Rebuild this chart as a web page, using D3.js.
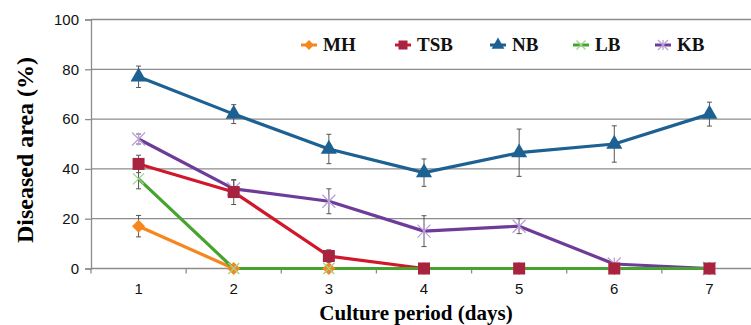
<!DOCTYPE html>
<html>
<head>
<meta charset="utf-8">
<script src="https://cdn.jsdelivr.net/npm/d3@7/dist/d3.min.js"></script>
<style>
  html, body { margin: 0; padding: 0; background: #fff; }
  svg { display: block; }
</style>
</head>
<body>
<svg id="chart" width="751" height="325"></svg>
<script>
// Culture period (days)
const days = [1, 2, 3, 4, 5, 6, 7];
const yTicks = [0, 20, 40, 60, 80, 100];

// Diseased area (%) per medium, with standard error
const mhValues  = [17, 0, 0, 0, 0, 0, 0];
const mhErr     = [4.3, 0, 0, 0, 0, 0, 0];
const tsbValues = [42, 30.7, 5, 0, 0, 0, 0];
const tsbErr    = [3.5, 5, 2.5, 0, 0, 0, 0];
const nbValues  = [77, 62, 48, 38.5, 46.5, 50, 62];
const nbErr     = [4.3, 3.8, 5.9, 5.5, 9.5, 7.3, 4.8];
const lbValues  = [36, 0, 0, 0, 0, 0, 0];
const lbErr     = [4, 0, 0, 0, 0, 0, 0];
const kbValues  = [52, 32, 27, 15, 17, 1.8, 0];
const kbErr     = [2, 3.5, 5, 6.2, 3, 0, 0];

const seriesNames = ["MH", "TSB", "NB", "LB", "KB"];

const series = [
  { name: "MH",  values: mhValues,  err: mhErr,  line: "#f7861c", marker: "#f7861c", shape: "diamond" },
  { name: "TSB", values: tsbValues, err: tsbErr, line: "#d0182a", marker: "#a8233f", shape: "square" },
  { name: "NB",  values: nbValues,  err: nbErr,  line: "#1d6192", marker: "#1d6192", shape: "triangle" },
  { name: "LB",  values: lbValues,  err: lbErr,  line: "#45a32e", marker: "#9fd48c", shape: "x" },
  { name: "KB",  values: kbValues,  err: kbErr,  line: "#6e3c98", marker: "#b9a2d6", shape: "star" }
];

const svg = d3.select("#chart");
const plotLeft = 91, plotRight = 757, plotTop = 19.5, plotBottom = 268.5;

const x = d3.scaleBand().domain(days).range([plotLeft, plotRight]);
const y = d3.scaleLinear().domain([0, 100]).range([plotBottom, plotTop]);
const cx = d => x(d) + x.bandwidth() / 2;

// Horizontal gridlines
svg.append("g")
  .selectAll("line")
  .data(yTicks.filter(t => t > 0))
  .join("line")
  .attr("x1", plotLeft).attr("x2", 751)
  .attr("y1", d => y(d)).attr("y2", d => y(d))
  .attr("stroke", "#8c8c8c").attr("stroke-width", 1.3);

// Y axis
const yAxis = svg.append("g")
  .attr("transform", `translate(${plotLeft},0)`)
  .call(d3.axisLeft(y).tickValues(yTicks).tickSize(6).tickPadding(6));
yAxis.select(".domain").attr("stroke", "#8c8c8c").attr("stroke-width", 1.3);
yAxis.selectAll(".tick line").attr("stroke", "#8c8c8c").attr("stroke-width", 1.3);
yAxis.selectAll("text")
  .attr("font-family", "Liberation Sans, Arial, sans-serif")
  .attr("font-size", 15).attr("fill", "#111");

// X axis with ticks between categories
const xAxisG = svg.append("g").attr("transform", `translate(0,${plotBottom})`);
xAxisG.append("line")
  .attr("x1", plotLeft).attr("x2", 751)
  .attr("y1", 0).attr("y2", 0)
  .attr("stroke", "#8c8c8c").attr("stroke-width", 1.3);
xAxisG.selectAll(".bt")
  .data(days.map(d => x(d)).concat([plotRight]))
  .join("line")
  .attr("class", "bt")
  .attr("x1", d => d).attr("x2", d => d)
  .attr("y1", 0).attr("y2", 5)
  .attr("stroke", "#8c8c8c").attr("stroke-width", 1.3);
xAxisG.selectAll("text")
  .data(days)
  .join("text")
  .attr("x", d => cx(d)).attr("y", 25)
  .attr("text-anchor", "middle")
  .attr("font-family", "Liberation Sans, Arial, sans-serif")
  .attr("font-size", 15).attr("fill", "#111")
  .text(d => d);

// Axis titles
svg.append("text")
  .attr("transform", `translate(33,150) rotate(-90)`)
  .attr("text-anchor", "middle")
  .attr("font-family", "Liberation Serif, Times New Roman, serif")
  .attr("font-weight", "bold").attr("font-size", 24)
  .text("Diseased area (%)");
svg.append("text")
  .attr("x", 416).attr("y", 320)
  .attr("text-anchor", "middle")
  .attr("font-family", "Liberation Serif, Times New Roman, serif")
  .attr("font-weight", "bold").attr("font-size", 21)
  .text("Culture period (days)");

function drawMarker(g, shape, color, px, py, s) {
  if (shape === "diamond") {
    g.append("path").attr("d", d3.symbol(d3.symbolDiamond2, s * s * 0.75)())
      .attr("transform", `translate(${px},${py})`)
      .attr("fill", color);
  } else if (shape === "square") {
    g.append("rect").attr("x", px - s / 2).attr("y", py - s / 2)
      .attr("width", s).attr("height", s).attr("fill", color);
  } else if (shape === "triangle") {
    g.append("path").attr("d", d3.symbol(d3.symbolTriangle, s * s * 0.5)())
      .attr("transform", `translate(${px},${py})`).attr("fill", color);
  } else if (shape === "x") {
    const h = s / 2;
    g.append("path")
      .attr("d", `M${px - h},${py - h}L${px + h},${py + h}M${px - h},${py + h}L${px + h},${py - h}`)
      .attr("stroke", color).attr("stroke-width", 1.3).attr("fill", "none");
  } else if (shape === "star") {
    const h = s / 2;
    g.append("path")
      .attr("d", `M${px - h},${py - h}L${px + h},${py + h}M${px - h},${py + h}L${px + h},${py - h}M${px},${py - h}L${px},${py + h}`)
      .attr("stroke", color).attr("stroke-width", 1.3).attr("fill", "none");
  }
}

const line = d3.line().x(d => cx(d.day)).y(d => y(d.v));

// Lines first, in stacking order (LB ends up on top along zero)
const drawOrder = ["NB", "KB", "TSB", "MH", "LB"];
const markerOrder = ["NB", "KB", "MH", "LB", "TSB"];
const byName = Object.fromEntries(series.map(s => [s.name, s]));

drawOrder.forEach(name => {
  const s = byName[name];
  const pts = days.map((d, i) => ({ day: d, v: s.values[i], e: s.err[i] }));
  svg.append("path").datum(pts)
    .attr("d", line)
    .attr("fill", "none").attr("stroke", s.line).attr("stroke-width", 3.2)
    .attr("stroke-linejoin", "round");
});

markerOrder.forEach(name => {
  const s = byName[name];
  const pts = days.map((d, i) => ({ day: d, v: s.values[i], e: s.err[i] }));
  const g = svg.append("g");
  // Error bars
  pts.filter(p => p.e > 0).forEach(p => {
    const px = cx(p.day);
    g.append("line").attr("x1", px).attr("x2", px)
      .attr("y1", y(p.v + p.e)).attr("y2", y(p.v - p.e))
      .attr("stroke", "#555").attr("stroke-width", 1);
    [p.v + p.e, p.v - p.e].forEach(t => {
      g.append("line").attr("x1", px - 2.5).attr("x2", px + 2.5)
        .attr("y1", y(t)).attr("y2", y(t))
        .attr("stroke", "#555").attr("stroke-width", 1);
    });
  });
  const size = { diamond: 12, square: 12, triangle: 15, x: 11, star: 13 }[s.shape];
  pts.forEach(p => drawMarker(g, s.shape, s.marker, cx(p.day), y(p.v), size));
});

// Legend
const legendX = [301, 395, 490, 573, 655];
const legendY = 45;
seriesNames.forEach((name, i) => {
  const s = byName[name];
  const g = svg.append("g");
  const lx = legendX[i];
  g.append("line").attr("x1", lx).attr("x2", lx + 16)
    .attr("y1", legendY).attr("y2", legendY)
    .attr("stroke", s.line).attr("stroke-width", 3);
  drawMarker(g, s.shape, s.marker, lx + 8, legendY, { diamond: 9, square: 9, triangle: 12, x: 9, star: 10 }[s.shape]);
  g.append("text")
    .attr("x", lx + 22).attr("y", legendY + 6)
    .attr("font-family", "Liberation Serif, Times New Roman, serif")
    .attr("font-weight", "bold").attr("font-size", 19)
    .attr("fill", "#111")
    .text(name);
});
</script>
</body>
</html>
